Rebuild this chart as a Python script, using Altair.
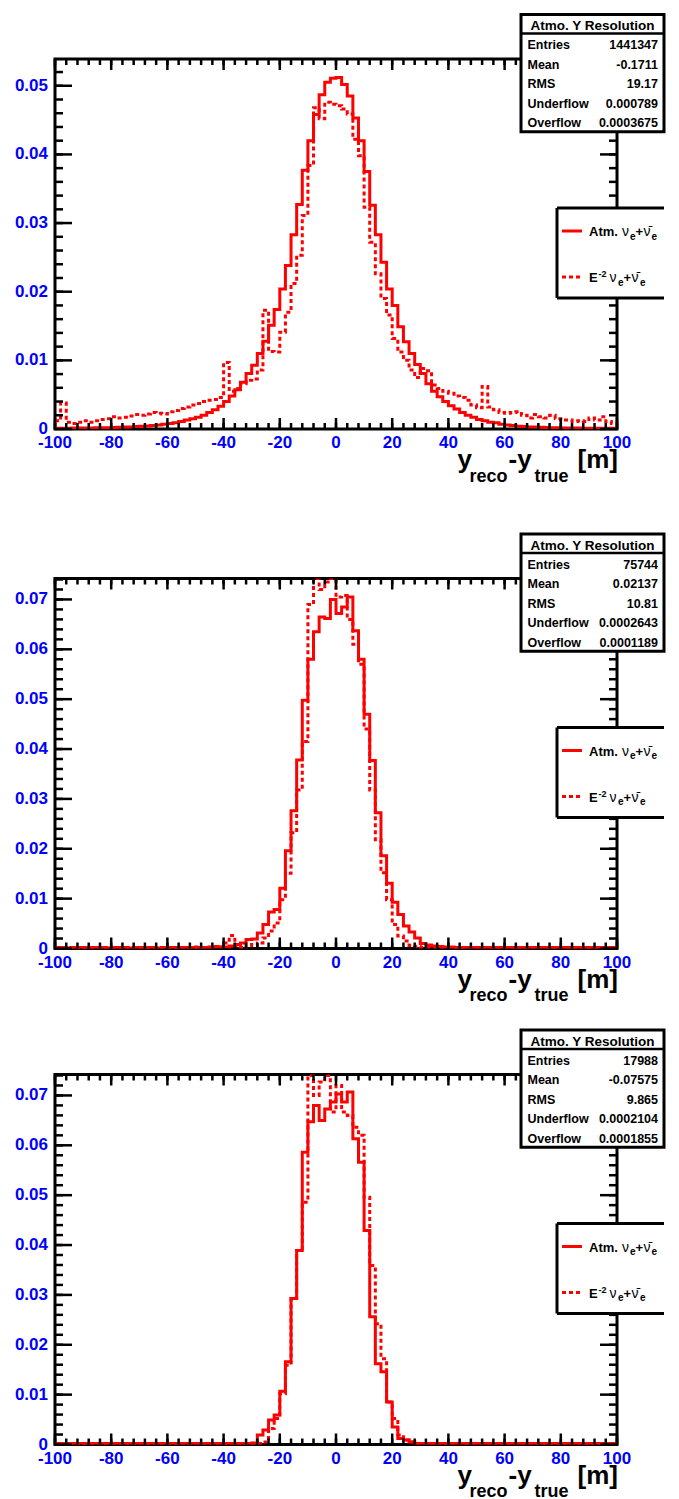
import altair as alt
import pandas as pd

FONT = "Liberation Sans"
RED = "#ff0000"
BLUE = "#0000ff"
W, H = 562, 370

# histogram binning: 100 bins of width 2 between -100 and 100 (left edges)
BIN_EDGES = list(range(-100, 100, 2))
X_MAJOR = [-100, -80, -60, -40, -20, 0, 20, 40, 60, 80, 100]
X_LABELS = ["-100", "-80", "-60", "-40", "-20", "0", "20", "40", "60", "80", "100"]
X_MINOR = list(range(-100, 101, 4))
Y_MAJOR_1 = [0, 0.01, 0.02, 0.03, 0.04, 0.05]
Y_LABELS_1 = ["0", "0.01", "0.02", "0.03", "0.04", "0.05"]
Y_MAJOR_23 = [0, 0.01, 0.02, 0.03, 0.04, 0.05, 0.06, 0.07]
Y_LABELS_23 = ["0", "0.01", "0.02", "0.03", "0.04", "0.05", "0.06", "0.07"]

# ---------------- panel 1 ----------------
ATM_1 = [0.0001, 0.00011, 0.00012, 0.00013, 0.00014, 0.00015, 0.00016, 0.00018, 0.0002, 0.0002,
         0.00022, 0.00025, 0.00028, 0.0003, 0.00035, 0.0004, 0.00045, 0.0005, 0.0006, 0.0007,
         0.0008, 0.0009, 0.0011, 0.0013, 0.0015, 0.0017, 0.002, 0.0024, 0.0028, 0.0033,
         0.004, 0.0048, 0.0057, 0.0068, 0.0081, 0.0093, 0.011, 0.0128, 0.0151, 0.0174,
         0.0204, 0.0238, 0.0283, 0.0327, 0.0377, 0.042, 0.0458, 0.0487, 0.0505, 0.0511,
         0.0512, 0.0502, 0.0485, 0.0453, 0.042, 0.0375, 0.0326, 0.0283, 0.0243, 0.0204,
         0.018, 0.0149, 0.0127, 0.011, 0.0094, 0.0081, 0.0066, 0.0055, 0.0047, 0.004,
         0.0034, 0.0029, 0.0024, 0.002, 0.0017, 0.0014, 0.0012, 0.001, 0.0009, 0.0007,
         0.0006, 0.0005, 0.0004, 0.00035, 0.0003, 0.00028, 0.00025, 0.00022, 0.0002, 0.00018,
         0.00016, 0.00015, 0.00014, 0.00013, 0.00012, 0.00011, 0.0001, 0.0001, 0.0001, 0.0001]
E2_1 = [0.0012, 0.0038, 0.001, 0.0008, 0.001, 0.0012, 0.001, 0.0012, 0.0014, 0.0015,
        0.0018, 0.0016, 0.0017, 0.0019, 0.0021, 0.002, 0.0022, 0.0024, 0.0023, 0.0022,
        0.0025, 0.0027, 0.003, 0.0032, 0.0035, 0.0037, 0.004, 0.0042, 0.0043, 0.0046,
        0.0097, 0.0055, 0.0059, 0.0066, 0.0071, 0.0073, 0.0086, 0.0173, 0.0113, 0.0112,
        0.0141, 0.017, 0.0212, 0.0253, 0.0311, 0.0384, 0.0468, 0.0452, 0.0476, 0.0473,
        0.0471, 0.0466, 0.0459, 0.0422, 0.0398, 0.0323, 0.0272, 0.0226, 0.019, 0.0166,
        0.0132, 0.0112, 0.01, 0.0086, 0.0075, 0.0088, 0.0085, 0.0064, 0.0059, 0.0055,
        0.0052, 0.0048, 0.0046, 0.0042, 0.0035, 0.0031, 0.0062, 0.0032, 0.0028, 0.0024,
        0.0023, 0.0024, 0.0025, 0.002, 0.0016, 0.0021, 0.0018, 0.0016, 0.002, 0.0015,
        0.0013, 0.0013, 0.0011, 0.0012, 0.0011, 0.0016, 0.0013, 0.0018, 0.0011, 0.0008]
STATS_1 = ["1441347", "-0.1711", "19.17", "0.000789", "0.0003675"]

# ---------------- panel 2 ----------------
ATM_2 = [0.0002, 0.0002, 0.0001, 0.0002, 0.0002, 0.0001, 0.0002, 0.0002, 0.0002, 0.0001,
         0.0002, 0.0002, 0.0002, 0.0001, 0.0002, 0.0002, 0.0002, 0.0002, 0.0001, 0.0002,
         0.0002, 0.0002, 0.0002, 0.0002, 0.0002, 0.0002, 0.0002, 0.0002, 0.0003, 0.0003,
         0.0003, 0.0005, 0.0008, 0.0011, 0.0018, 0.0019, 0.0031, 0.0048, 0.0073, 0.0078,
         0.0121, 0.0196, 0.0276, 0.0378, 0.0498, 0.058, 0.0635, 0.0665, 0.0662, 0.07,
         0.0672, 0.0685, 0.0705, 0.0637, 0.058, 0.047, 0.0377, 0.0272, 0.0186, 0.0131,
         0.0093, 0.0068, 0.0045, 0.0033, 0.0021, 0.001, 0.0007, 0.0005, 0.0004, 0.0003,
         0.0003, 0.0002, 0.0002, 0.0002, 0.0002, 0.0002, 0.0002, 0.0002, 0.0002, 0.0002,
         0.0002, 0.0002, 0.0002, 0.0002, 0.0002, 0.0002, 0.0002, 0.0002, 0.0002, 0.0002,
         0.0002, 0.0002, 0.0002, 0.0002, 0.0002, 0.0002, 0.0002, 0.0002, 0.0002, 0.0002]
E2_2 = [0.0002, 0.0002, 0.0002, 0.0002, 0.0002, 0.0002, 0.0002, 0.0002, 0.0002, 0.0002,
        0.0002, 0.0002, 0.0002, 0.0002, 0.0002, 0.0002, 0.0002, 0.0002, 0.0002, 0.0002,
        0.0002, 0.0002, 0.0002, 0.0002, 0.0002, 0.0003, 0.0002, 0.0003, 0.0004, 0.0003,
        0.0011, 0.0026, 0.0005, 0.0002, 0.0008, 0.0006, 0.0011, 0.0021, 0.0035, 0.0051,
        0.0098, 0.0151, 0.0232, 0.0318, 0.0415, 0.069, 0.0742, 0.072, 0.0735, 0.0742,
        0.0705, 0.0708, 0.066, 0.061, 0.057, 0.044, 0.0318, 0.0218, 0.0152, 0.0098,
        0.0048, 0.0025, 0.0015, 0.0006, 0.0004, 0.0002, 0.0002, 0.0002, 0.0002, 0.0002,
        0.0002, 0.0002, 0.0002, 0.0002, 0.0002, 0.0002, 0.0002, 0.0002, 0.0002, 0.0002,
        0.0002, 0.0002, 0.0002, 0.0002, 0.0002, 0.0002, 0.0002, 0.0002, 0.0002, 0.0002,
        0.0002, 0.0002, 0.0002, 0.0002, 0.0002, 0.0002, 0.0002, 0.0002, 0.0002, 0.0002]
STATS_2 = ["75744", "0.02137", "10.81", "0.0002643", "0.0001189"]

# ---------------- panel 3 ----------------
ATM_3 = [0.0002, 0.0002, 0.0002, 0.0002, 0.0002, 0.0002, 0.0002, 0.0002, 0.0002, 0.0002,
         0.0002, 0.0002, 0.0002, 0.0002, 0.0002, 0.0002, 0.0002, 0.0002, 0.0002, 0.0002,
         0.0002, 0.0002, 0.0002, 0.0002, 0.0002, 0.0002, 0.0002, 0.0002, 0.0002, 0.0002,
         0.0002, 0.0002, 0.0002, 0.0002, 0.0002, 0.0003, 0.0019, 0.0029, 0.0049, 0.0059,
         0.0107, 0.0166, 0.0293, 0.0389, 0.0586, 0.0647, 0.068, 0.065, 0.0673, 0.0687,
         0.0703, 0.0687, 0.0707, 0.0613, 0.0566, 0.0429, 0.0256, 0.0162, 0.0146, 0.0085,
         0.0035, 0.0012, 0.0009, 0.0005, 0.0002, 0.0002, 0.0002, 0.0002, 0.0002, 0.0002,
         0.0002, 0.0002, 0.0002, 0.0002, 0.0002, 0.0002, 0.0002, 0.0002, 0.0002, 0.0002,
         0.0002, 0.0002, 0.0002, 0.0002, 0.0002, 0.0002, 0.0002, 0.0002, 0.0002, 0.0002,
         0.0002, 0.0002, 0.0002, 0.0002, 0.0002, 0.0002, 0.0002, 0.0002, 0.0002, 0.0002]
E2_3 = [0.0002, 0.0002, 0.0002, 0.0002, 0.0002, 0.0002, 0.0002, 0.0002, 0.0002, 0.0002,
        0.0002, 0.0002, 0.0002, 0.0002, 0.0002, 0.0002, 0.0002, 0.0002, 0.0002, 0.0002,
        0.0002, 0.0002, 0.0002, 0.0002, 0.0002, 0.0002, 0.0002, 0.0002, 0.0002, 0.0002,
        0.0002, 0.0002, 0.0002, 0.0002, 0.0002, 0.0002, 0.0002, 0.0005, 0.0032, 0.0052,
        0.0102, 0.0159, 0.0293, 0.0389, 0.0486, 0.074, 0.07, 0.0727, 0.074, 0.0667,
        0.072, 0.0667, 0.066, 0.0636, 0.062, 0.0496, 0.0359, 0.0242, 0.0172, 0.0085,
        0.0052, 0.0019, 0.0009, 0.0005, 0.0002, 0.0002, 0.0002, 0.0002, 0.0002, 0.0002,
        0.0002, 0.0002, 0.0002, 0.0002, 0.0002, 0.0002, 0.0002, 0.0002, 0.0002, 0.0002,
        0.0002, 0.0002, 0.0002, 0.0002, 0.0002, 0.0002, 0.0002, 0.0002, 0.0002, 0.0002,
        0.0002, 0.0002, 0.0002, 0.0002, 0.0002, 0.0002, 0.0002, 0.0002, 0.0002, 0.0002]
STATS_3 = ["17988", "-0.07575", "9.865", "0.0002104", "0.0001855"]

STAT_LABELS = ["Entries", "Mean", "RMS", "Underflow", "Overflow"]
STATS_TITLE = "Atmo. Y Resolution"

ONE = pd.DataFrame({"k": [0]})


def text(t, x, y, size, weight="bold", align="left", color="black"):
    return alt.Chart(ONE).mark_text(
        font=FONT, fontSize=size, fontWeight=weight, align=align,
        baseline="alphabetic", color=color
    ).encode(x=alt.value(x), y=alt.value(y), text=alt.value(t))


def rule(x, x2, y, y2, width=3, color="black", dash=None):
    kw = dict(color=color, strokeWidth=width)
    if dash:
        kw["strokeDash"] = dash
    return alt.Chart(ONE).mark_rule(**kw).encode(
        x=alt.value(x), x2=alt.value(x2), y=alt.value(y), y2=alt.value(y2))


def make_panel(atm, e2, ymax, y_major, y_labels, stats):
    xs = alt.Scale(domain=[-100, 100], nice=False, zero=False)
    ys = alt.Scale(domain=[0, ymax], nice=False, zero=True)
    X = lambda f: alt.X(f, scale=xs, axis=None)
    Y = lambda f: alt.Y(f, scale=ys, axis=None)

    def hist(vals, dash):
        df = pd.DataFrame({"x": BIN_EDGES + [100], "y": vals + [vals[-1]]})
        kw = dict(interpolate="step-after", color=RED, strokeWidth=3, clip=True)
        if dash:
            kw["strokeDash"] = dash
        return alt.Chart(df).mark_line(**kw).encode(x=X("x:Q"), y=Y("y:Q"))

    y_minor = [round(0.002 * i, 3) for i in range(1, 60) if 0.002 * i < ymax]

    def xticks(vals, length):
        df = pd.DataFrame({"t": vals})
        bot = alt.Chart(df).mark_rule(color="black", strokeWidth=2.5).encode(
            x=X("t:Q"), y=alt.value(H), y2=alt.value(H - length))
        top = alt.Chart(df).mark_rule(color="black", strokeWidth=2.5).encode(
            x=X("t:Q"), y=alt.value(0), y2=alt.value(length))
        return [bot, top]

    def yticks(vals, length):
        df = pd.DataFrame({"t": vals})
        left = alt.Chart(df).mark_rule(color="black", strokeWidth=2.5).encode(
            y=Y("t:Q"), x=alt.value(0), x2=alt.value(length))
        right = alt.Chart(df).mark_rule(color="black", strokeWidth=2.5).encode(
            y=Y("t:Q"), x=alt.value(W), x2=alt.value(W - length))
        return [left, right]

    layers = [hist(atm, None), hist(e2, [4, 3])]
    layers += xticks(X_MINOR, 6) + xticks(X_MAJOR, 11)
    layers += yticks(y_minor, 8) + yticks(y_major, 17)

    # tick labels (placed with the panel's own scales)
    xl = pd.DataFrame({"v": X_MAJOR, "lab": X_LABELS})
    layers.append(alt.Chart(xl).mark_text(
        font=FONT, fontWeight="bold", fontSize=17, color=BLUE,
        align="center", baseline="top").encode(
        x=X("v:Q"), y=alt.value(H + 6), text="lab:N"))
    yl = pd.DataFrame({"v": y_major, "lab": y_labels})
    layers.append(alt.Chart(yl).mark_text(
        font=FONT, fontWeight="bold", fontSize=17, color=BLUE,
        align="right", baseline="middle").encode(
        y=Y("v:Q"), x=alt.value(-7), text="lab:N"))

    # statistics box
    bx0, bx1, by0, by1, bhead = 466, 609, -44.5, 72.8, -25.5
    layers.append(alt.Chart(ONE).mark_rect(fill="white", stroke="black", strokeWidth=3).encode(
        x=alt.value(bx0), x2=alt.value(bx1), y=alt.value(by0), y2=alt.value(by1)))
    layers.append(rule(bx0, bx1, bhead, bhead, width=2.5))
    layers.append(text(STATS_TITLE, (bx0 + bx1) / 2, -29, 13.5, align="center"))
    for i, (lab, val) in enumerate(zip(STAT_LABELS, stats)):
        yb = -9.7 + 19.45 * i
        layers.append(text(lab, 472.5, yb, 12.5))
        layers.append(text(val, 603, yb, 12.5, align="right"))

    # legend box (open on the right, as in the cropped original)
    lx0, lx1, ly0, ly1 = 502, 609, 149, 239
    layers.append(alt.Chart(ONE).mark_rect(fill="white", strokeWidth=0).encode(
        x=alt.value(lx0), x2=alt.value(lx1), y=alt.value(ly0), y2=alt.value(ly1)))
    layers.append(rule(lx0, lx1, ly0, ly0))
    layers.append(rule(lx0, lx1, ly1, ly1))
    layers.append(rule(lx0, lx0, ly0, ly1))
    layers.append(rule(507, 527, 172, 172, width=3, color=RED))
    layers.append(rule(507, 527, 218, 218, width=3, color=RED, dash=[4, 3]))
    r1 = 177
    layers.append(text("Atm.", 534, r1, 13))
    layers.append(text("ν", 567, r1, 14, weight="normal"))
    layers.append(text("e", 575, r1 + 3.5, 10))
    layers.append(text("+", 580.5, r1, 13))
    layers.append(text("ν\u0304", 588.5, r1, 14, weight="normal"))
    layers.append(text("e", 596.5, r1 + 3.5, 10))
    r2 = 223
    layers.append(text("E", 534, r2, 13))
    layers.append(text("-2", 543.5, r2 - 5, 9))
    layers.append(text("ν", 554.5, r2, 14, weight="normal"))
    layers.append(text("e", 563, r2 + 3.5, 10))
    layers.append(text("+", 568.5, r2, 13))
    layers.append(text("ν\u0304", 576.5, r2, 14, weight="normal"))
    layers.append(text("e", 585, r2 + 3.5, 10))

    # x-axis title  y_reco - y_true [m]
    tb, sb = 409.3, 422.6
    layers.append(text("y", 402.5, tb, 26))
    layers.append(text("reco", 414.5, sb, 18))
    layers.append(text("-y", 453.5, tb, 26))
    layers.append(text("true", 479.5, sb, 18))
    layers.append(text("[m]", 522.5, tb, 26))

    return alt.layer(*layers).properties(width=W, height=H)


p1 = make_panel(ATM_1, E2_1, 0.0539, Y_MAJOR_1, Y_LABELS_1, STATS_1)
p2 = make_panel(ATM_2, E2_2, 0.0742, Y_MAJOR_23, Y_LABELS_23, STATS_2)
p3 = make_panel(ATM_3, E2_3, 0.0742, Y_MAJOR_23, Y_LABELS_23, STATS_3)

chart = alt.vconcat(
    alt.vconcat(p1, p2, spacing=42.5),
    p3, spacing=19.5
).properties(
    padding={"left": 5, "top": 3, "right": 0, "bottom": 0},
    background="white",
).configure_view(stroke="black", strokeWidth=3)

chart.save("out.html", embed_options={"renderer": "svg", "actions": False})
